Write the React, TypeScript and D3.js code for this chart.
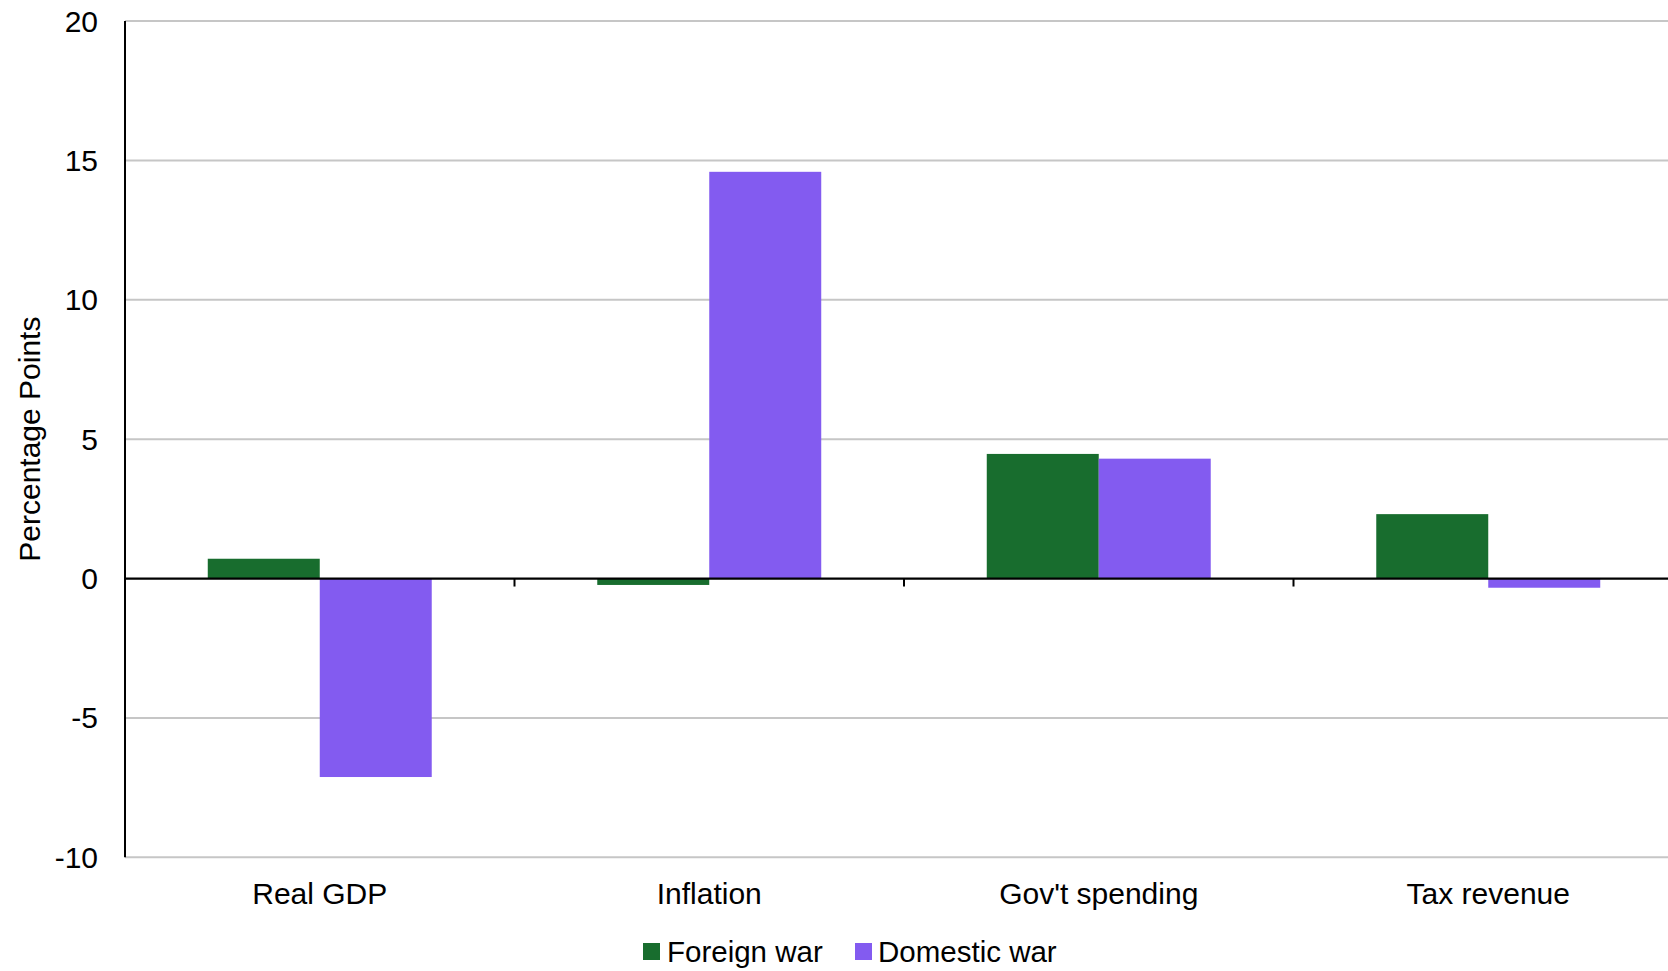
import React from "react";
import * as d3 from "d3";

// Categories and series
const categories = ["Real GDP", "Inflation", "Gov't spending", "Tax revenue"];
const seriesNames = ["Foreign war", "Domestic war"];
const foreignWar = [0.71, -0.23, 4.47, 2.31];
const domesticWar = [-7.12, 14.59, 4.3, -0.33];
const yTicks = [-10, -5, 0, 5, 10, 15, 20];

const colors = ["#186d2e", "#835bf0"];
const FONT = "'Liberation Sans', Arial, Helvetica, sans-serif";
const FS = 30;

const W = 1668;
const H = 971;
const left = 125;
const top = 21;
const bottom = 857.3;
const band = 389.5;

export default function App() {
  const x0 = d3
    .scaleBand<string>()
    .domain(categories)
    .range([left, left + band * categories.length])
    .paddingInner(0)
    .paddingOuter(0);
  const x1 = d3
    .scaleBand<string>()
    .domain(seriesNames)
    .range([0, x0.bandwidth()])
    .paddingInner(0)
    .paddingOuter(0.739);
  const y = d3.scaleLinear().domain([-10, 20]).range([bottom, top]);

  const values = [foreignWar, domesticWar];
  const y0 = y(0);

  return (
    <div style={{ position: "absolute", left: 0, top: 0 }}>
      <svg width={W} height={H} style={{ display: "block", background: "#fff" }}>
        {/* horizontal gridlines */}
        {yTicks
          .filter((t) => t !== 0)
          .map((t) => (
            <line
              key={"g" + t}
              x1={left}
              x2={W}
              y1={y(t)}
              y2={y(t)}
              stroke="#c6c6c6"
              strokeWidth={2}
            />
          ))}
        {/* y tick labels */}
        {yTicks.map((t) => (
          <text
            key={"yl" + t}
            x={98}
            y={y(t)}
            dy="0.35em"
            textAnchor="end"
            fontFamily={FONT}
            fontSize={FS}
            fill="#000"
          >
            {t}
          </text>
        ))}
        {/* bars */}
        {seriesNames.map((s, si) =>
          categories.map((c, ci) => {
            const v = values[si][ci];
            const xx = (x0(c) as number) + (x1(s) as number);
            return (
              <rect
                key={s + c}
                x={xx}
                width={x1.bandwidth()}
                y={Math.min(y(v), y0)}
                height={Math.abs(y(v) - y0)}
                fill={colors[si]}
              />
            );
          })
        )}
        {/* zero line and category separators */}
        <line x1={left} x2={W} y1={y0} y2={y0} stroke="#000" strokeWidth={2.2} />
        {categories.slice(1).map((c) => (
          <line
            key={"t" + c}
            x1={x0(c) as number}
            x2={x0(c) as number}
            y1={y0}
            y2={y0 + 8}
            stroke="#000"
            strokeWidth={2}
          />
        ))}
        {/* y axis line */}
        <line x1={left} x2={left} y1={top} y2={bottom} stroke="#000" strokeWidth={2} />
        {/* category labels */}
        {categories.map((c) => (
          <text
            key={"cl" + c}
            x={(x0(c) as number) + x0.bandwidth() / 2}
            y={904}
            textAnchor="middle"
            fontFamily={FONT}
            fontSize={FS}
            fill="#000"
          >
            {c}
          </text>
        ))}
        {/* y axis title */}
        <text
          transform={`translate(40, ${(top + bottom) / 2}) rotate(-90)`}
          textAnchor="middle"
          fontFamily={FONT}
          fontSize={FS}
          fill="#000"
        >
          Percentage Points
        </text>
        {/* legend */}
        <g>
          <rect x={643} y={943} width={17} height={17} fill={colors[0]} />
          <text x={667} y={962} fontFamily={FONT} fontSize={29.5} fill="#000">
            {seriesNames[0]}
          </text>
          <rect x={855} y={943} width={17} height={17} fill={colors[1]} />
          <text x={878} y={962} fontFamily={FONT} fontSize={29.5} fill="#000">
            {seriesNames[1]}
          </text>
        </g>
      </svg>
    </div>
  );
}
